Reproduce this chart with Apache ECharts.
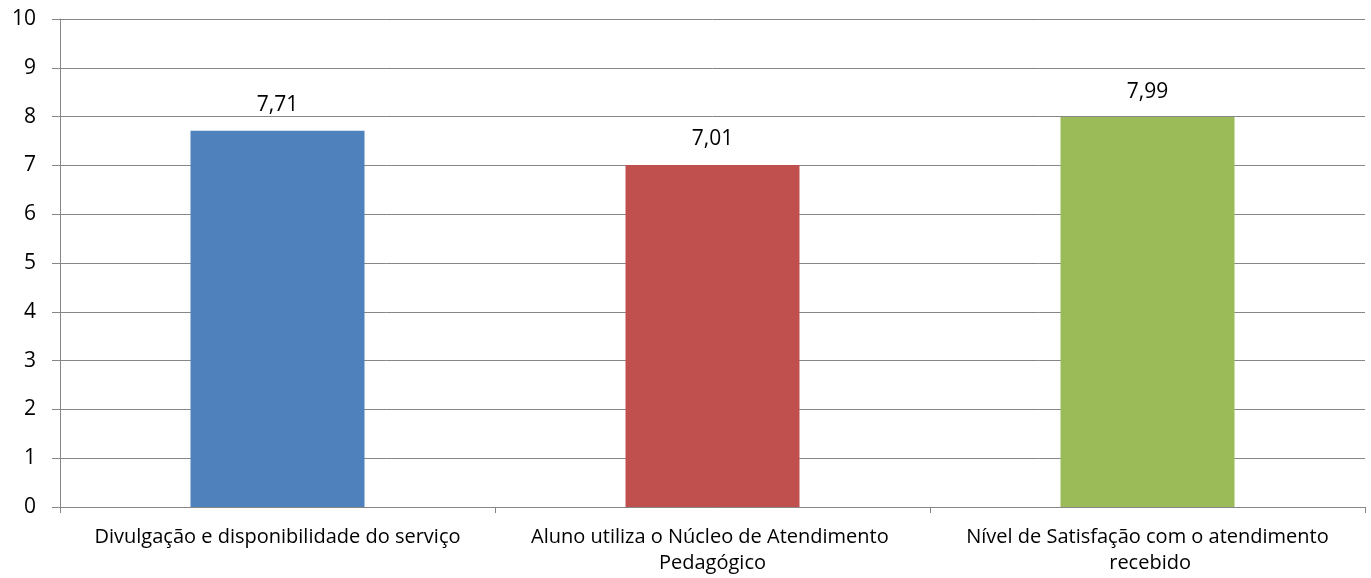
<!DOCTYPE html>
<html>
<head>
<meta charset="utf-8">
<script src="https://cdn.jsdelivr.net/npm/echarts@6/dist/echarts.min.js"></script>
<style>
  html, body { margin: 0; padding: 0; background: #fff; }
  #chart { width: 1371px; height: 578px; }
</style>
</head>
<body>
<div id="chart"></div>
<script>
// categories and values
const categories = [
  'Divulgação e disponibilidade do serviço',
  'Aluno utiliza o Núcleo de Atendimento Pedagógico',
  'Nível de Satisfação com o atendimento recebido'
]
const scores = [7.71, 7.01, 7.99]
const barColors = ['#4F81BD', '#C0504D', '#9BBB59']

const font = '"Open Sans", Lato, sans-serif'
const gray = '#868686'

const chart = echarts.init(document.getElementById('chart'))
chart.setOption({
  animation: false,
  grid: { left: 60, right: 6, top: 19, bottom: 71 },
  xAxis: {
    type: 'category',
    data: categories,
    axisLine: { lineStyle: { color: gray, width: 1 } },
    axisTick: { show: true, length: 6, lineStyle: { color: gray } },
    axisLabel: {
      color: '#000',
      fontFamily: font,
      fontSize: 20,
      margin: 17,
      lineHeight: 26,
      width: 400,
      overflow: 'break',
      interval: 0
    }
  },
  yAxis: {
    type: 'value',
    min: 0,
    max: 10,
    interval: 1,
    axisLine: { show: true, lineStyle: { color: gray, width: 1 } },
    axisTick: { show: true, length: 8, lineStyle: { color: gray } },
    splitLine: { lineStyle: { color: gray, width: 1 } },
    axisLabel: {
      color: '#000',
      fontFamily: font,
      fontSize: 21,
      margin: 24
    }
  },
  series: [
    {
      type: 'bar',
      barWidth: '40%',
      data: scores.map((v, i) => ({ value: v, itemStyle: { color: barColors[i] } })),
      label: {
        show: true,
        position: 'top',
        distance: 15,
        color: '#000',
        fontFamily: font,
        fontSize: 21,
        formatter: (p) => p.value.toFixed(2).replace('.', ',')
      }
    }
  ]
})
</script>
</body>
</html>
